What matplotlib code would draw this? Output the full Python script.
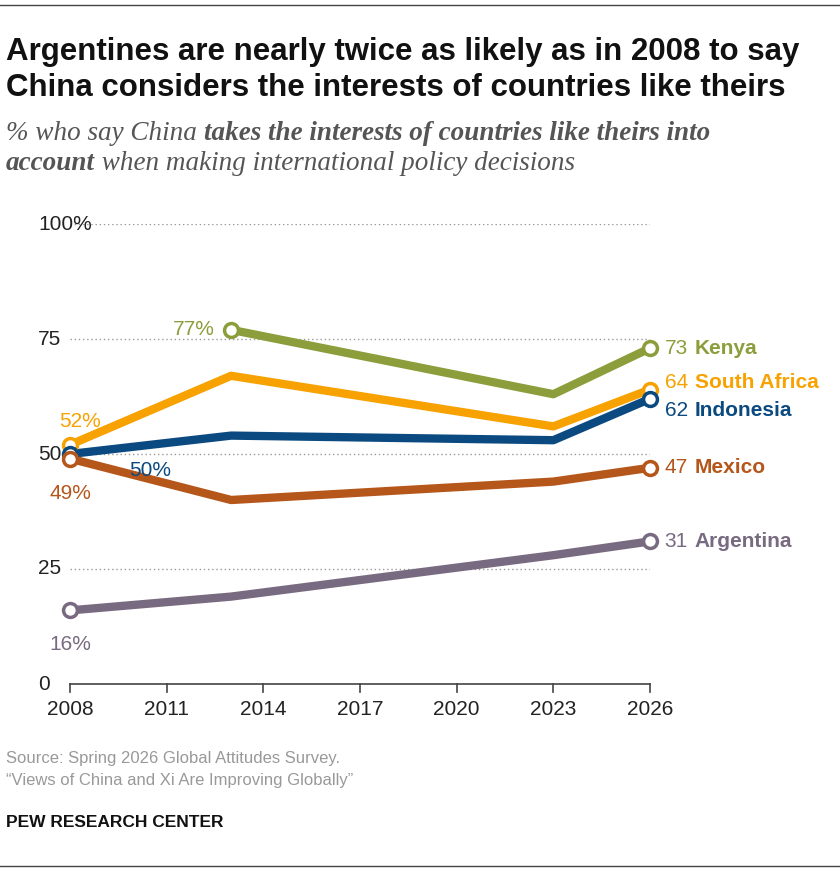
import matplotlib
matplotlib.use("Agg")
import matplotlib.pyplot as plt
from matplotlib.offsetbox import TextArea, HPacker, AnchoredOffsetbox, AnnotationBbox

years_k = [2013, 2023, 2026]; kenya = [77, 63, 73]
years = [2008, 2013, 2023, 2026]
south_africa = [52, 67, 56, 64]
indonesia = [50, 54, 53, 62]
mexico = [49, 40, 44, 47]
argentina = [16, 19, 28, 31]
xticks = [2008, 2011, 2014, 2017, 2020, 2023, 2026]
yticks = [0, 25, 50, 75, 100]
ylabels = ["0", "25", "50", "75", "100%"]

C_K = "#8c9d3b"; C_SA = "#f7a200"; C_I = "#0b4a80"; C_M = "#b5561a"; C_A = "#786a80"
plt.rcParams['font.family'] = ['Liberation Sans', 'DejaVu Sans']

W, H = 840, 872
fig = plt.figure(figsize=(W/100, H/100), dpi=100)
ax = fig.add_axes([70/W, 1-684/H, 580/W, 460/H])
ax.set_xlim(2008, 2026); ax.set_ylim(0, 100)
for s in ax.spines.values(): s.set_visible(False)
ax.set_xticks([]); ax.set_yticks([])
for y in yticks[1:]:
    ax.plot([2008, 2026], [y, y], ls=(0, (1, 2)), color="#999999", lw=1, zorder=1)
ax.plot([2008, 2026], [0, 0], color="#444444", lw=1.2, clip_on=False)
for x in xticks:
    ax.plot([x, x], [0, -1.8], color="#444444", lw=1.2, clip_on=False)
    ax.text(x, -3.5, str(x), ha="center", va="top", fontsize=15, color="#222222")
for y, l in zip(yticks, ylabels):
    fig.text(38/W, 1-(684-4.6*y)/H, l, ha="left", va="center", fontsize=15, color="#222222")

def series(xs, ys, c):
    ax.plot(xs, ys, color=c, lw=6, solid_capstyle="butt", zorder=3, clip_on=False)
    for i in [0, len(xs)-1]:
        ax.plot(xs[i], ys[i], "o", ms=10, mfc="white", mec=c, mew=2.5, zorder=4, clip_on=False)

series(years_k, kenya, C_K)
series(years, south_africa, C_SA)
series(years, indonesia, C_I)
series(years, mexico, C_M)
series(years, argentina, C_A)

fs = 15
ends = [(73, "Kenya", C_K, 73), (64, "South Africa", C_SA, 65.5), (62, "Indonesia", C_I, 59.5),
        (47, "Mexico", C_M, 47), (31, "Argentina", C_A, 31)]
for v, name, c, ypos in ends:
    box = HPacker(children=[TextArea(f"{v}", textprops=dict(fontsize=fs, color=c)),
                            TextArea(name, textprops=dict(fontsize=fs, color=c, fontweight="bold"))],
                  sep=5, pad=0, align="baseline")
    ab = AnnotationBbox(box, (2026.45, ypos), xycoords="data", box_alignment=(0, 0.5), frameon=False, pad=0,
                        annotation_clip=False)
    ax.add_artist(ab)

ax.text(2013-0.5, 77, "77%", ha="right", va="center", fontsize=fs, color=C_K)
ax.text(2008.3, 57, "52%", ha="center", va="center", fontsize=fs, color=C_SA)
ax.text(2010.5, 46.5, "50%", ha="center", va="center", fontsize=fs, color=C_I)
ax.text(2008, 41.5, "49%", ha="center", va="center", fontsize=fs, color=C_M)
ax.text(2008, 8.5, "16%", ha="center", va="center", fontsize=fs, color=C_A)

fig.text(6/W, 1-96/H, "Argentines are nearly twice as likely as in 2008 to say\nChina considers the interests of countries like theirs",
         ha="left", va="baseline", fontsize=22.5, fontweight="bold", color="#111111", linespacing=1.25)

sf = dict(fontsize=19.5, style="italic", color="#555555", family=["Liberation Serif"])
sb = dict(sf, fontweight="bold")
def line(parts, y):
    box = HPacker(children=[TextArea(t, textprops=p) for t, p in parts], sep=0, pad=0, align="baseline")
    ab = AnchoredOffsetbox(loc="center left", child=box, pad=0, frameon=False,
                           bbox_to_anchor=(6/W, 1-y/H), bbox_transform=fig.transFigure, borderpad=0)
    fig.add_artist(ab)
line([("% who say China ", sf), ("takes the interests of countries like theirs into", sb)], 134)
line([("account", sb), (" when making international policy decisions", sf)], 164)

fig.text(6/W, 1-758/H, "Source: Spring 2026 Global Attitudes Survey.", fontsize=12, color="#999999", va="center")
fig.text(6/W, 1-780/H, "\u201cViews of China and Xi Are Improving Globally\u201d", fontsize=12, color="#999999", va="center")
fig.text(6/W, 1-822/H, "PEW RESEARCH CENTER", fontsize=12.5, fontweight="bold", color="#111111", va="center")
fig.add_artist(plt.Line2D([0, 1], [1-5/H, 1-5/H], color="#444444", lw=1))
fig.add_artist(plt.Line2D([0, 1], [1-866/H, 1-866/H], color="#444444", lw=1))
fig.savefig("out.png", dpi=100)
